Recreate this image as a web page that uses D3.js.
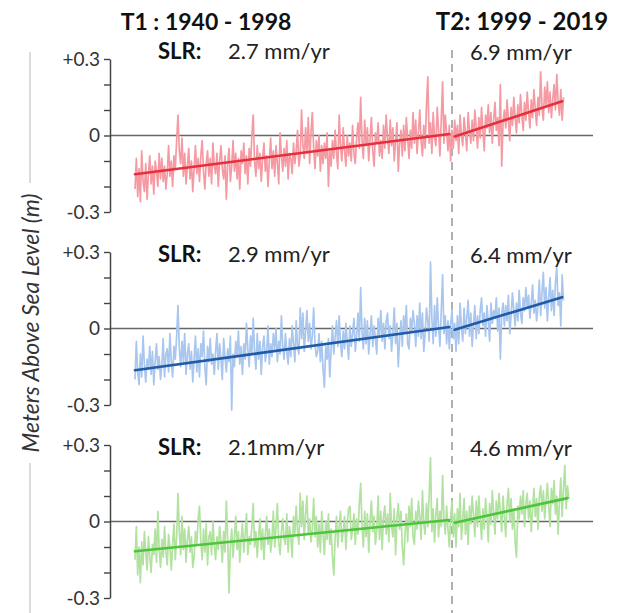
<!DOCTYPE html>
<html>
<head>
<meta charset="utf-8">
<script src="https://cdn.jsdelivr.net/npm/d3@7"></script>
<style>
  body { margin: 0; background: #fff; }
  svg { display: block; }
</style>
</head>
<body>
<svg id="chart" width="628" height="613"></svg>
<script>
// ---- data -------------------------------------------------------------
// Monthly-mean sea level anomaly (m), sampled quarterly, starting 1940.0.
const startYear = 1940;
const samplesPerYear = 4;
const breakYear = 1999;

const periodTitles = ["T1 : 1940 - 1998", "T2: 1999 - 2019"];
const yTicks = [-0.3, -0.2, -0.1, 0, 0.1, 0.2, 0.3];
const yTickLabels = ["-0.3", "", "", "0", "", "", "+0.3"];
const yAxisTitle = "Meters Above Sea Level (m)";

// Linear sea-level-rise rates (mm/yr) for each period and station
const t1Rates = [2.7, 2.9, 2.1];
const t2Rates = [6.9, 6.4, 4.6];
const t1RateLabels = ["2.7 mm/yr", "2.9 mm/yr", "2.1mm/yr"];
const t2RateLabels = ["6.9 mm/yr", "6.4 mm/yr", "4.6 mm/yr"];
// Fitted level (m) at the end of T1 and at the start of T2
const t1EndLevel = [0.006, 0.006, 0.006];
const t2StartLevel = [-0.004, -0.005, -0.005];

const redSeries = [
-.21,-.09,-.24,-.13, -.26,-.06,-.18,-.22, -.11,-.25,-.15,-.08, -.19,-.12,-.23,-.10,
-.14,-.20,-.07,-.17, -.09,-.18,-.12,-.21, -.15,-.04,-.16,-.10, -.20,-.08,-.13,-.02,
.08,-.06,-.11,-.01, -.16,-.07,-.19,-.12, -.05,-.17,-.10,-.22, -.13,-.04,-.15,-.09,
-.18,-.08,-.02,-.14, -.21,-.11,-.06,-.16, -.09,-.19,-.03,-.12, -.15,-.07,-.20,-.10,
-.04,-.13,-.17,-.08, -.25,-.11,-.05,-.18, -.12,-.02,-.14,-.07, -.17,-.09,-.21,-.06,
-.11,-.03,-.15,-.08, -.19,-.05,-.12,.00, .08,-.10,-.16,-.04, -.13,-.07,-.18,-.09,
-.03,-.14,-.08,-.20, -.10,-.01,-.13,-.06, -.16,-.04,-.11,-.19, .01,-.08,-.14,-.05,
-.12,-.02,-.17,-.07, -.09,-.15,-.03,-.11, -.06,.02,-.12,-.08, .10,-.04,-.09,.03,
-.07,.07,-.11,.01, .09,-.05,-.13,-.02, -.08,.00,-.14,-.04, -.11,-.03,-.09,.01,
-.20,-.06,-.12,-.02, -.09,.02,-.07,-.13, .08,-.04,-.10,.03, -.06,-.12,.00,-.08,
-.03,-.10,.04,-.07, -.11,-.01,.05,-.05, .15,-.02,-.09,.06, -.04,.03,-.10,-.01,
.07,-.06,-.12,.01, -.03,.05,-.08,-.02, -.09,.04,-.05,.08, -.01,-.07,.06,-.04,
.03,-.10,-.02,.05, -.14,-.03,.02,-.08, .04,-.06,.07,-.01, -.09,.02,-.05,.09,
-.03,.06,-.07,.01, .10,-.02,-.08,.04, -.05,.12,.23,-.03, .05,-.07,.09,-.01,
-.04,.11,.02,-.08, .06,.21,-.03,.08, .01,-.06,.04,-.10, .02,-.05,.06,-.02,
.04,-.07,.08,.00, -.04,.07,.01,-.06, .09,.02,-.03,.06, -.02,.10,.03,-.05,
.07,-.01,.11,.02, -.06,.08,.03,.12, .01,.09,-.03,.06, .13,.02,.07,-.04,
.20,-.12,.05,.10, .03,.14,.06,-.02, .11,.04,.15,.07, .01,.12,.05,.16,
.08,.02,.13,.06, .17,.09,.03,.14, .07,.18,.10,.04, .15,.08,.25,.11,
.06,.19,.12,.21, .09,.17,.07,.14, .20,.10,.24,.13, .08,.18,.06,.15
];

const blueSeries = [
-.20,-.05,-.17,-.22, -.10,-.19,-.03,-.14, -.21,-.12,-.16,-.07, -.18,-.09,-.22,-.13,
-.06,-.16,-.11,-.20, -.14,-.04,-.19,-.10, -.08,-.17,-.02,-.13, -.19,-.07,-.12,-.03,
.09,-.08,-.15,-.05, -.13,-.02,-.18,-.10, -.06,-.16,-.09,-.21, -.12,-.03,-.17,-.08,
-.19,-.06,-.11,-.01, -.15,-.22,-.07,-.13, -.04,-.14,-.10,-.18, -.09,-.02,-.16,-.06,
-.12,-.20,-.04,-.11, -.17,-.08,-.13,-.03, -.32,-.10,-.15,-.05, -.11,-.01,-.14,-.07,
-.18,-.06,-.12,.02, -.08,-.15,-.03,-.10, .04,-.09,-.16,-.02, -.12,-.05,-.18,-.07,
-.03,-.13,-.09,.01, -.14,-.06,-.11,-.02, -.08,.00,-.13,-.05, -.10,.05,-.07,-.12,
-.02,-.09,-.14,-.04, -.11,.01,-.06,-.13, .03,-.07,-.10,.08, -.04,.06,-.09,-.01,
.07,-.05,.02,-.08, -.03,.08,-.06,-.11, -.09,-.02,-.13,-.05, -.16,-.23,-.07,-.12,
-.04,-.19,-.08,.01, -.10,-.03,.03,-.07, .05,-.06,-.11,-.01, -.08,.02,-.05,-.12,
.01,-.07,-.02,.04, -.09,-.03,.06,-.05, .16,-.01,-.08,.04, -.06,.03,-.10,-.02,
.05,-.07,.01,-.04, -.10,.04,-.03,.07, -.05,.02,-.08,.03, .06,-.04,.01,-.09,
-.02,.08,-.06,.02, -.15,-.04,.03,-.07, .05,-.02,.09,-.06, -.08,.04,-.01,.07,
.02,-.07,.05,-.03, .10,-.04,.06,-.09, -.02,.08,.03,-.05, .26,.04,-.06,.09,
-.03,.12,.01,-.07, .07,.21,-.02,.05, -.06,.03,-.08,.02, .07,-.04,.02,-.09,
.05,-.06,.10,.01, -.05,.08,-.02,.04, .11,-.03,.06,-.07, .02,.09,-.04,.05,
-.02,.07,.12,.01, .06,-.03,.09,.03, -.05,.10,.02,.07, .04,.12,-.01,.08,
-.12,.06,.10,.01, .09,.03,.13,-.02, .05,.14,.07,.01, .10,.03,.15,.06,
.02,.12,.07,.16, .08,.13,.04,.10, .17,.06,.11,.03, .09,.19,.05,.14,
.22,.08,.16,.03, .12,.20,.07,.15, .05,.18,.24,.09, .14,.01,.21,.11
];

const greenSeries = [
-.15,-.02,-.21,-.10, -.24,-.08,-.17,-.04, -.12,-.19,-.06,-.14, -.20,-.09,-.13,-.03,
-.16,.04,-.11,-.18, -.07,-.14,-.02,-.12, -.17,-.05,-.10,-.19, -.09,-.01,-.15,-.06,
.11,-.04,-.13,.02, -.11,-.03,-.16,-.07, -.02,-.12,-.06,-.18, -.14,-.04,-.09,.01,
.06,-.08,-.15,-.03, -.12,-.01,-.17,-.06, -.04,-.13,.00,-.09, -.15,-.06,-.11,-.02,
-.08,-.16,-.04,-.12, .08,-.07,-.28,-.10, -.03,-.14,-.06,.02, -.11,-.04,-.16,-.07,
-.01,-.12,-.05,.03, -.13,-.06,-.09,-.02, .07,-.10,-.04,-.14, -.06,.01,-.11,-.03,
-.15,-.05,.02,-.09, -.03,-.12,-.07,.04, -.10,-.02,.07,-.08, -.13,-.04,.01,-.07,
-.09,.03,-.12,-.02, -.06,-.14,.02,-.05, .06,-.04,-.09,.11, -.02,.08,-.07,.03,
.10,-.05,.01,-.08, -.03,.09,-.06,.02, -.10,-.01,-.12,.04, -.05,-.13,.00,-.07,
.03,-.09,-.03,-.14, -.21,-.06,.02,-.10, -.02,.04,-.08,-.04, .02,-.11,-.01,.05,
.06,-.07,-.03,.03, -.09,.01,-.05,.07, .15,-.02,-.10,.04, -.06,.03,-.12,.00,
.08,-.04,.02,-.09, -.03,.10,-.07,.04, -.11,.02,.06,-.05, .03,-.08,.11,-.02,
-.06,.05,-.13,.01, .07,-.03,.04,-.10, -.17,-.05,.03,-.08, .06,-.02,.09,-.06,
-.09,.04,-.03,.08, .02,-.07,.12,-.01, -.05,.07,-.02,.10, .25,-.04,.05,-.08,
.03,.09,-.06,.04, -.02,.18,.01,-.05, .06,-.03,-.10,.02, .08,-.06,.03,-.10,
.05,-.02,.11,-.07, .01,.09,-.05,.04, -.09,.06,-.01,.10, .03,-.06,.08,-.02,
.10,.01,-.07,.05, -.03,.09,.02,-.08, .07,-.01,.12,.03, -.05,.08,.01,.11,
.04,-.04,.10,.02, -.06,.07,.13,.00, .09,-.03,.05,-.08, -.14,.06,.01,.10,
.03,.12,-.02,.07, .11,.01,.08,-.04, .05,.13,.02,.09, -.03,.10,.14,.04,
.12,.01,.08,.15, .06,-.02,.13,.07, .16,.03,.10,-.05, .08,.17,.02,.13,
.22,.05,.14,.09
];

const stations = [
  { values: redSeries,   light: "#f59aa3", dark: "#e4303d" },
  { values: blueSeries,  light: "#a9c6ee", dark: "#1f5ba6" },
  { values: greenSeries, light: "#b2e2a0", dark: "#4cc43b" }
];

// ---- layout -----------------------------------------------------------
const svg = d3.select("#chart");
const fontFamily = "Lato, 'Open Sans', sans-serif";

const x = d3.scaleLinear().domain([startYear, breakYear]).range([135, 452]);
const axisX = 110;
const zeroLineEnd = 593;
const panelZero = [135.5, 328.5, 521.5];
const halfHeight = 76.5;

const timeOf = i => startYear + i / samplesPerYear;

// vertical title with rule above and below
svg.append("line")
  .attr("x1", 30).attr("x2", 30).attr("y1", 52).attr("y2", 183)
  .attr("stroke", "#c4c4c4").attr("stroke-width", 1.2);
svg.append("line")
  .attr("x1", 30).attr("x2", 30).attr("y1", 463).attr("y2", 613)
  .attr("stroke", "#c4c4c4").attr("stroke-width", 1.2);
svg.append("text")
  .attr("transform", "translate(39,323) rotate(-90)")
  .attr("text-anchor", "middle")
  .attr("font-family", fontFamily)
  .attr("font-style", "italic")
  .style("font-size", "23px")
  .attr("fill", "#333")
  .text(yAxisTitle);

// period titles
const titleX = [206, 522];
periodTitles.forEach((t, i) => {
  svg.append("text")
    .attr("x", titleX[i]).attr("y", 30)
    .attr("text-anchor", "middle")
    .attr("font-family", fontFamily)
    .attr("font-weight", 700)
    .style("font-size", i === 0 ? "23px" : "24px")
    .attr("fill", "#111")
    .text(t);
});

// break between the two periods
svg.append("line")
  .attr("x1", x(breakYear)).attr("x2", x(breakYear))
  .attr("y1", 50).attr("y2", 613)
  .attr("stroke", "#b0b0b0").attr("stroke-width", 2)
  .attr("stroke-dasharray", "8,6");

const rateBaseline = [59, 262, 455];

stations.forEach((st, p) => {
  const y = d3.scaleLinear().domain([-0.3, 0.3])
    .range([panelZero[p] + halfHeight, panelZero[p] - halfHeight]);
  const g = svg.append("g");

  // zero reference
  g.append("line")
    .attr("x1", axisX).attr("x2", zeroLineEnd)
    .attr("y1", y(0)).attr("y2", y(0))
    .attr("stroke", "#666").attr("stroke-width", 1.3);

  // observed sea level
  const line = d3.line()
    .x((d, i) => x(timeOf(i)))
    .y(d => y(d));
  g.append("path")
    .datum(st.values)
    .attr("fill", "none")
    .attr("stroke", st.light)
    .attr("stroke-width", 1.7)
    .attr("stroke-linejoin", "round")
    .attr("d", line);

  // linear trends for each period
  const endYear = timeOf(st.values.length - 1);
  const t1End = breakYear - 0.5, t2Start = breakYear + 0.5;
  const trendT1 = [
    [startYear, t1EndLevel[p] - t1Rates[p] / 1000 * (t1End - startYear)],
    [t1End, t1EndLevel[p]]
  ];
  const trendT2 = [
    [t2Start, t2StartLevel[p]],
    [endYear - 0.25, t2StartLevel[p] + t2Rates[p] / 1000 * (endYear - 0.25 - t2Start)]
  ];
  const trendLine = d3.line().x(d => x(d[0])).y(d => y(d[1]));
  [trendT1, trendT2].forEach(seg => {
    g.append("path")
      .attr("fill", "none")
      .attr("stroke", st.dark)
      .attr("stroke-width", 2.6)
      .attr("stroke-linecap", "round")
      .attr("d", trendLine(seg));
  });

  // y axis
  const axis = d3.axisLeft(y)
    .tickValues(yTicks)
    .tickSize(6)
    .tickSizeOuter(0)
    .tickPadding(4)
    .tickFormat((d, i) => yTickLabels[i]);
  const ag = g.append("g")
    .attr("transform", `translate(${axisX},0)`)
    .call(axis);
  ag.attr("font-size", null).attr("font-family", null);
  ag.select(".domain").attr("stroke", "#444").attr("stroke-width", 1.5);
  ag.selectAll(".tick line").attr("stroke", "#444").attr("stroke-width", 1.4);
  ag.selectAll(".tick text")
    .style("font-family", fontFamily)
    .style("font-size", "19px")
    .attr("fill", "#333");

  // rate labels
  g.append("text")
    .attr("x", 158).attr("y", rateBaseline[p])
    .attr("font-family", fontFamily)
    .attr("font-weight", 700)
    .style("font-size", "22px")
    .attr("fill", "#111")
    .text("SLR:");
  g.append("text")
    .attr("x", 228).attr("y", rateBaseline[p])
    .attr("font-family", fontFamily)
    .style("font-size", "22px")
    .attr("fill", "#222")
    .text(t1RateLabels[p]);
  g.append("text")
    .attr("x", 470).attr("y", rateBaseline[p] + 1)
    .attr("font-family", fontFamily)
    .style("font-size", "22px")
    .attr("fill", "#222")
    .text(t2RateLabels[p]);
});
</script>
</body>
</html>
